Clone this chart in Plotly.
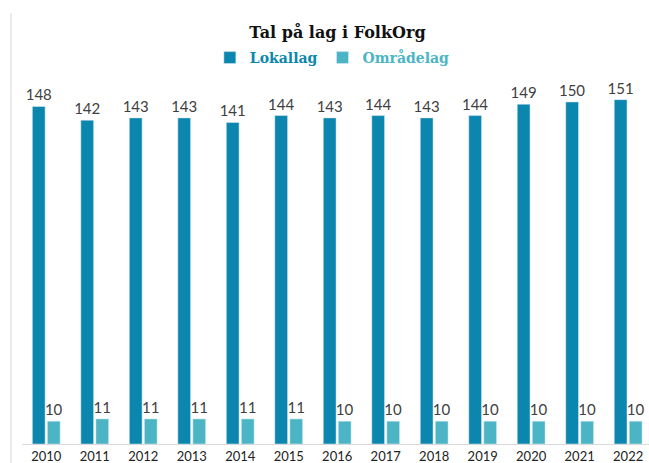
import plotly.graph_objects as go

years = ["2010", "2011", "2012", "2013", "2014", "2015", "2016",
         "2017", "2018", "2019", "2020", "2021", "2022"]
lokallag = [148, 142, 143, 143, 141, 144, 143, 144, 143, 144, 149, 150, 151]
omradelag = [10, 11, 11, 11, 11, 11, 10, 10, 10, 10, 10, 10, 10]

c_dark = "#0B87AF"
c_light = "#4BB5C5"
label_font = dict(family="Lato, Liberation Sans, sans-serif", size=15, color="#404040")

fig = go.Figure()
fig.add_trace(go.Bar(
    x=years, y=lokallag,
    name=f"<span style='color:{c_dark}'><b>Lokallag</b></span>",
    marker_color=c_dark,
    text=lokallag, textposition="outside", textfont=label_font,
    constraintext="none", cliponaxis=False,
))
fig.add_trace(go.Bar(
    x=years, y=omradelag,
    name=f"<span style='color:{c_light}'><b>Områdelag</b></span>",
    marker_color=c_light,
    text=omradelag, textposition="outside", textfont=label_font,
    constraintext="none", cliponaxis=False,
))

fig.update_layout(
    width=649, height=463,
    paper_bgcolor="white", plot_bgcolor="white",
    margin=dict(l=22, r=0, t=75, b=19),
    barmode="group", bargap=0.38, bargroupgap=0.15,
    title=dict(text="<b>Tal på lag i FolkOrg</b>", x=0.52, xanchor="center",
               y=1 - 32 / 463, yanchor="middle",
               font=dict(family="DejaVu Serif, serif", size=16, color="#111111")),
    legend=dict(orientation="h", x=0.495, xanchor="center", y=1 - 58 / 463,
                yref="container", yanchor="middle",
                font=dict(family="DejaVu Serif, serif", size=14),
                itemwidth=30, traceorder="normal"),
    showlegend=True,
)
fig.update_xaxes(range=[-0.5, 12.43], showline=True, linecolor="#D9D9D9", linewidth=1,
                 ticks="", showgrid=False, ticklabelstandoff=0,
                 tickfont=dict(family="Lato, Liberation Sans, sans-serif", size=13, color="#222222"))
fig.update_yaxes(range=[0, 161.8], visible=False, showgrid=False)
fig.add_shape(type="line", xref="paper", yref="paper",
              x0=-11 / 627, x1=-11 / 627, y0=-19 / 369, y1=(444 - 13) / 369,
              line=dict(color="#D9D9D9", width=1))
fig.write_html("out.html", config={"displayModeBar": False},
               post_script="document.body.style.margin='0';document.body.style.padding='0';")
